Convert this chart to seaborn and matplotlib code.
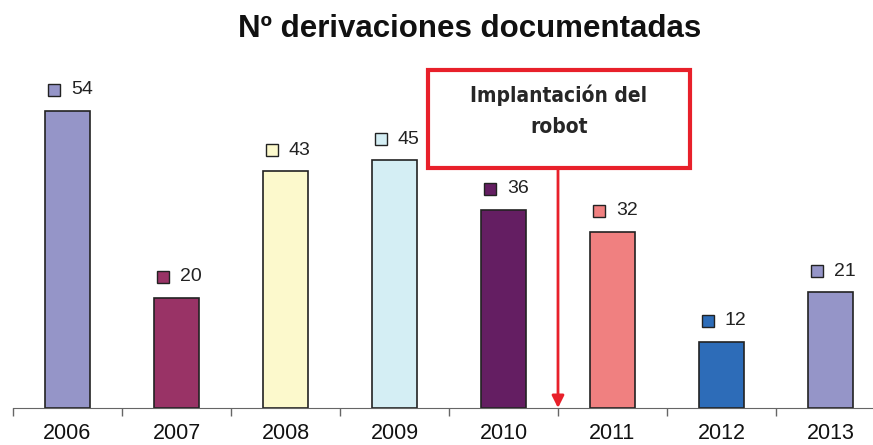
import matplotlib
matplotlib.use("Agg")
import matplotlib.pyplot as plt
import seaborn as sns
import pandas as pd
from matplotlib.patches import Rectangle

# --------------------------------------------------
# Data
# --------------------------------------------------
years = ["2006", "2007", "2008", "2009", "2010", "2011", "2012", "2013"]
derivaciones = [54, 20, 43, 45, 36, 32, 12, 21]
bar_colors = ["#9595C8", "#993366", "#FCF9CC", "#D4EEF4",
              "#641E62", "#F08080", "#2D6CB8", "#9595C8"]
note_text = "Implantación del\nrobot"
title_text = "Nº derivaciones documentadas"

df = pd.DataFrame({"year": years, "n": derivaciones})

# --------------------------------------------------
# Figure
# --------------------------------------------------
sns.set_style("white")
plt.rcParams["font.family"] = ["Liberation Sans", "DejaVu Sans"]

fig = plt.figure(figsize=(8.73, 4.45), dpi=100)
ax = fig.add_axes([13 / 873, 37 / 445, 872 / 873, 0.7416])

sns.barplot(data=df, x="year", y="n", hue="year", palette=bar_colors,
            legend=False, width=0.41, edgecolor="#222222", linewidth=1.2,
            saturation=1, ax=ax)

ax.set_ylim(0, 60)
ax.set_xlim(-0.5, 7.5)

# value labels: coloured square + number
for i, (v, c) in enumerate(zip(derivaciones, bar_colors)):
    ax.plot(i - 0.124, v + 3.9, marker="s", ms=8.5, mfc=c, mec="#222222",
            mew=1, clip_on=False)
    ax.text(i + 0.03, v + 3.9, str(v), ha="left", va="center",
            fontsize=14, color="#222222")

# annotation box + arrow
ax.add_patch(Rectangle((3.307, 43.6), 2.403, 17.9, fill=True, facecolor="white",
                       edgecolor="#E8202A", lw=3, clip_on=False, zorder=5))
ax.text(4.508, 54.0, note_text, ha="center", va="center", fontsize=15,
        fontweight="bold", fontstretch="condensed", linespacing=1.7, zorder=6,
        family=["DejaVu Sans"])
ax.annotate("", xy=(4.5, 0), xytext=(4.5, 43.6),
            arrowprops=dict(arrowstyle="-|>", color="#E8202A", lw=2,
                            mutation_scale=18, shrinkA=0, shrinkB=0),
            zorder=6, annotation_clip=False)

# axes styling
sns.despine(ax=ax, left=True)
ax.spines["bottom"].set_color("#666666")
ax.set_yticks([])
ax.set_xlabel("")
ax.set_ylabel("")
ax.set_xticks(range(len(years)))
ax.set_xticklabels(years, fontsize=15.5)
ax.tick_params(axis="x", which="major", length=0, pad=11, colors="#111111")
ax.set_xticks([i - 0.5 for i in range(len(years) + 1)], minor=True)
ax.tick_params(axis="x", which="minor", bottom=True, length=6, width=1,
               color="#666666", direction="out")

fig.suptitle(title_text, x=0.538, y=0.968, fontsize=22.5, fontweight="bold",
             color="#111111")

plt.savefig("out.png", dpi=100)
